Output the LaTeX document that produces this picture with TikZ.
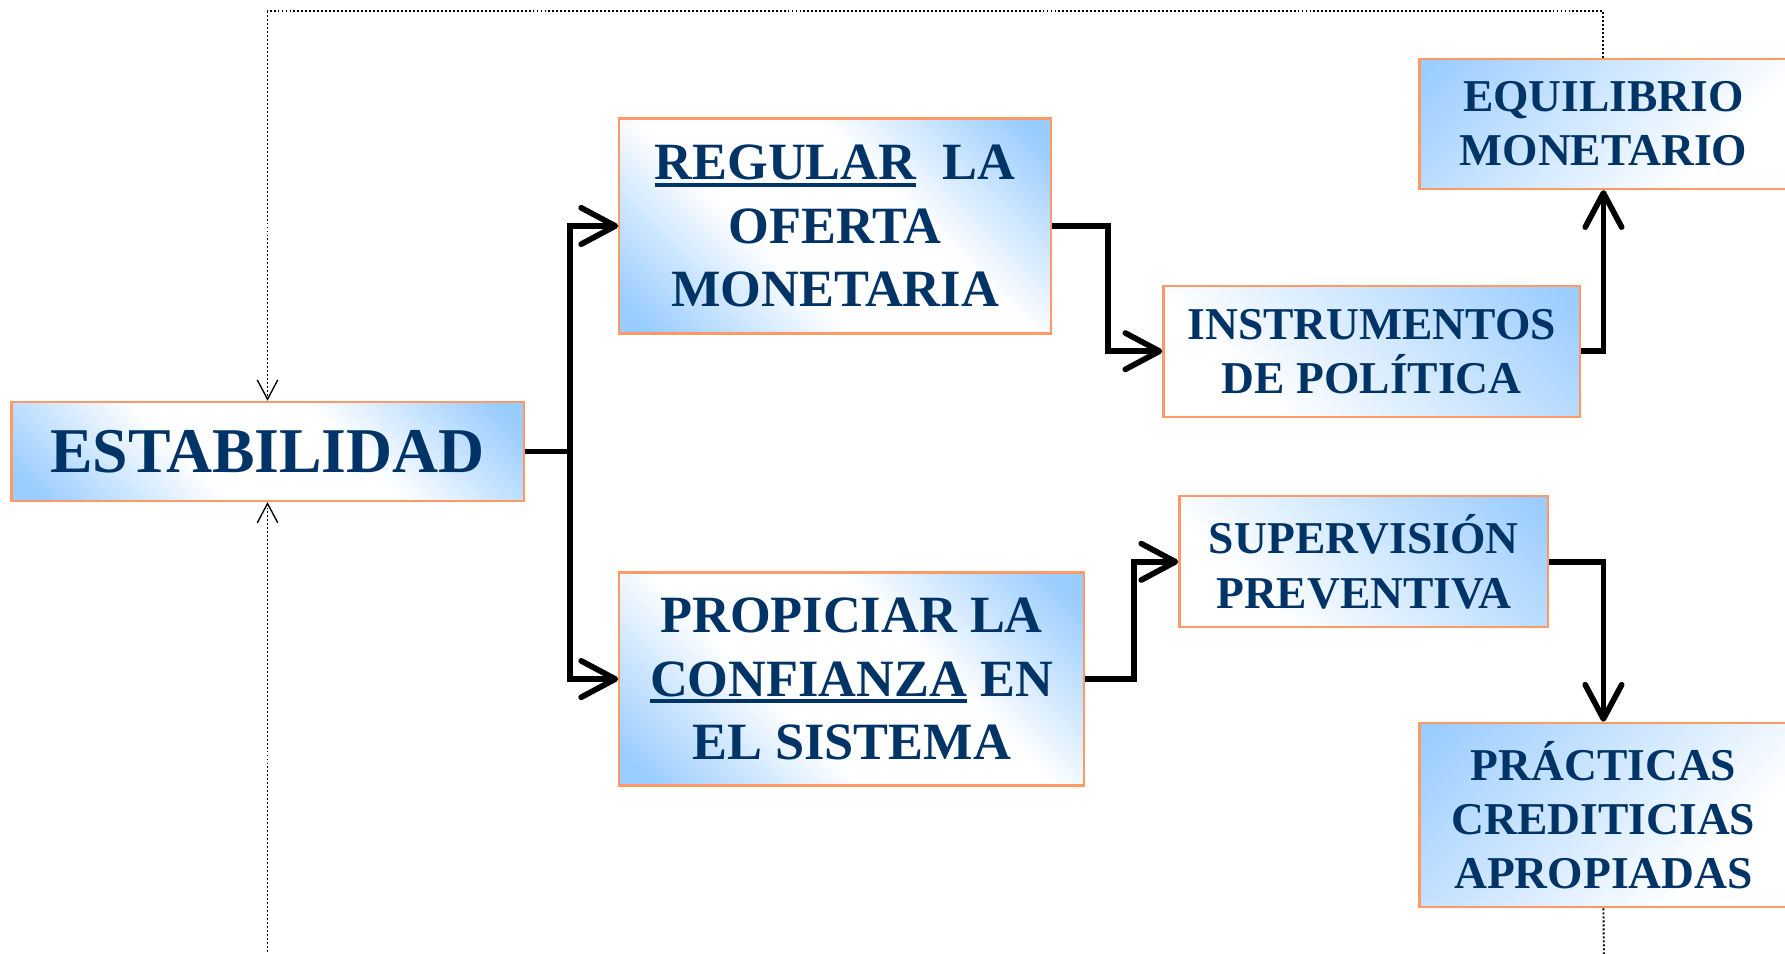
\documentclass[tikz,border=0pt]{standalone}
\usepackage{fontspec}
\setmainfont{Liberation Serif}
\usetikzlibrary{arrows.meta}
\definecolor{navy}{RGB}{0,51,102}
\definecolor{sky}{RGB}{153,204,255}
\definecolor{salmon}{RGB}{255,153,102}
\pgfdeclareverticalshading{twoway}{100bp}{color(0bp)=(sky); color(18bp)=(sky); color(40bp)=(white); color(60bp)=(white); color(82bp)=(sky); color(100bp)=(sky)}
\pgfdeclareverticalshading{oneway}{100bp}{color(0bp)=(white); color(30bp)=(white); color(84bp)=(sky); color(100bp)=(sky)}
\newcommand\ulword[1]{\setbox0\hbox{#1}\rlap{\rule[-6pt]{\wd0}{3.2pt}}\box0\relax}
\begin{document}
\begin{tikzpicture}[x=1pt,y=-1pt,
  box/.style={draw=salmon, line width=2pt, inner sep=0pt, align=center, text=navy},
  bigf/.style={font=\fontsize{46}{55.5}\selectfont\bfseries},
  smallf/.style={font=\fontsize{40}{47.5}\selectfont\bfseries},
  twoshade/.style={shading=twoway, shading angle=-45},
  tlblue/.style={shading=oneway, shading angle=45},
  trblue/.style={shading=oneway, shading angle=-45},
  conn/.style={line width=5pt, line join=miter},
  tip/.style={-{Straight Barb[length=30pt,width=32pt,line cap=round,line join=round]}},
  dotl/.style={line width=1.7pt, dash pattern=on 1.7pt off 1.8pt},
  dtip/.style={-{Straight Barb[length=17pt,width=18pt,line width=1.2pt]}}]
\useasboundingbox (0,0) rectangle (1568,838);
\node[box, twoshade, minimum width=450pt, minimum height=87pt,
  font=\fontsize{56}{60}\selectfont\bfseries] (est) at (235,396.5) {ESTABILIDAD};
\node[box, twoshade, bigf, minimum width=379pt, minimum height=189pt] (reg) at (733.5,198.5)
  {\raisebox{-3pt}{\ulword{REGULAR}\ \ LA}\\\raisebox{-3pt}{OFERTA}\\\raisebox{-3pt}{MONETARIA}};
\node[box, twoshade, bigf, minimum width=408pt, minimum height=187pt] (pro) at (748,596.5)
  {\raisebox{-2pt}{PROPICIAR LA}\\\raisebox{-2pt}{\ulword{CONFIANZA} EN}\\\raisebox{-2pt}{EL SISTEMA}};
\node[box, tlblue, smallf, minimum width=323pt, minimum height=114pt] (equ) at (1408.5,109)
  {\raisebox{-3pt}{EQUILIBRIO}\\\raisebox{-3pt}{MONETARIO}};
\node[box, trblue, smallf, minimum width=366pt, minimum height=115pt] (ins) at (1205,308.5)
  {INSTRUMENTOS\\DE POLÍTICA};
\node[box, trblue, smallf, minimum width=324pt, minimum height=115pt] (sup) at (1198,493.5)
  {SUPERVISIÓN\\PREVENTIVA};
\node[box, tlblue, smallf, minimum width=323pt, minimum height=162pt] (pra) at (1408.5,716)
  {PRÁCTICAS\\CREDITICIAS\\APROPIADAS};
% thick connectors
\coordinate (j) at (501,396.5);
\draw[conn] (est.east) -- (j);
\draw[conn, tip] (j) |- (reg.west);
\draw[conn, tip] (j) |- (pro.west);
\draw[conn, tip] (reg.east) -- ++(49,0) |- (ins.west);
\draw[conn, tip] (ins.east) -| (equ.south);
\draw[conn, tip] (pro.east) -- ++(43,0) |- (sup.west);
\draw[conn, tip] (sup.east) -| (pra.north);
% dotted feedback lines
\coordinate (top) at (235,10);
\coordinate (bl) at (235,850);
\coordinate (br) at (1409,850);
\draw[dotl, dtip] (equ.north) |- (top) -- (est.north);
\draw[dotl] (pra.south) -- (br);
\draw[dotl, dtip] (bl) -- (est.south);
\end{tikzpicture}
\end{document}
